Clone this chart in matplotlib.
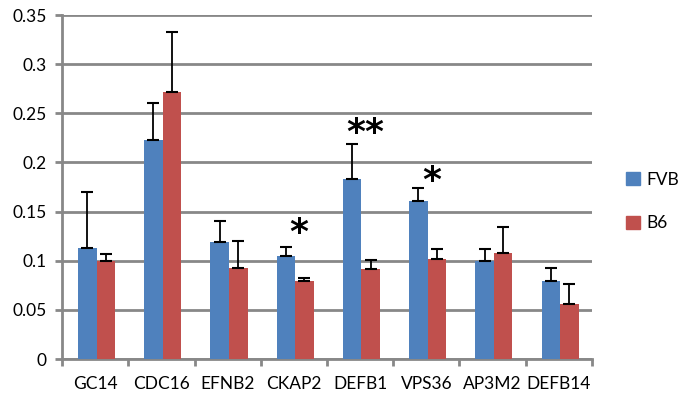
import matplotlib
matplotlib.use("Agg")
import matplotlib.pyplot as plt
import numpy as np
from matplotlib.patches import Patch

plt.rcParams['font.family'] = ['Lato', 'DejaVu Sans']

genes = ["GC14", "CDC16", "EFNB2", "CKAP2", "DEFB1", "VPS36", "AP3M2", "DEFB14"]
fvb = [0.113, 0.223, 0.119, 0.105, 0.183, 0.161, 0.100, 0.079]
fvb_err = [0.057, 0.037, 0.021, 0.009, 0.036, 0.013, 0.012, 0.014]
b6 = [0.100, 0.272, 0.093, 0.079, 0.092, 0.102, 0.108, 0.056]
b6_err = [0.007, 0.061, 0.027, 0.003, 0.009, 0.010, 0.026, 0.020]
stars = {"CKAP2": ("*", 0.136), "DEFB1": ("**", 0.238), "VPS36": ("*", 0.189)}
yticks = [0, 0.05, 0.1, 0.15, 0.2, 0.25, 0.3, 0.35]
ytick_labels = ["0", "0.05", "0.1", "0.15", "0.2", "0.25", "0.3", "0.35"]

blue = "#4F81BD"
red = "#C0504D"
grid_c = "#888888"

fig = plt.figure(figsize=(6.82, 3.95), dpi=100)
ax = fig.add_axes([0.091, 0.091, 0.777, 0.871])

x = np.arange(len(genes))
w = 0.28
ax.bar(x - w/2 + 0.02, fvb, w, color=blue, zorder=3, label="FVB")
ax.bar(x + w/2 + 0.02, b6, w, color=red, zorder=3, label="B6")
ax.errorbar(x - w/2 + 0.02, fvb, yerr=[np.zeros(len(fvb)), fvb_err], fmt='none',
            ecolor='black', elinewidth=1.3, capsize=4, capthick=1.5, zorder=4)
ax.errorbar(x + w/2 + 0.02, b6, yerr=[np.zeros(len(b6)), b6_err], fmt='none',
            ecolor='black', elinewidth=1.3, capsize=4, capthick=1.5, zorder=4)

for g, (s, yv) in stars.items():
    i = genes.index(g)
    ax.annotate(s, (i + 0.08, yv), xytext=(0, -8), textcoords='offset pixels',
                ha='center', va='center', fontsize=26, fontweight='bold',
                family='DejaVu Sans', zorder=5)

ax.set_xlim(-0.5, len(genes) - 0.5)
ax.set_ylim(0, 0.35)
ax.set_yticks(yticks)
ax.set_yticklabels(ytick_labels)
ax.set_xticks(x)
ax.set_xticklabels(genes)
ax.set_xticks(np.arange(-0.5, len(genes)), minor=True)
ax.tick_params(axis='x', which='major', length=0, pad=12, labelsize=12.5)
ax.tick_params(axis='x', which='minor', length=5, width=2, color=grid_c, direction='out')
ax.tick_params(axis='y', length=5, width=2, color=grid_c, direction='out', labelsize=12.5, pad=6)

ax.yaxis.grid(True, color=grid_c, linewidth=2, zorder=0)
ax.set_axisbelow(True)
for sp in ['top', 'right']:
    ax.spines[sp].set_visible(False)
ax.spines['left'].set_color(grid_c)
ax.spines['left'].set_linewidth(2)
ax.spines['bottom'].set_color(grid_c)
ax.spines['bottom'].set_linewidth(2)

handles = [Patch(color=blue, label="FVB"), Patch(color=red, label="B6")]
fig.legend(handles=handles, loc='center left', bbox_to_anchor=(0.895, 0.49), frameon=False,
           fontsize=12.5, handlelength=0.8, handleheight=0.8, labelspacing=1.6, handletextpad=0.4)

fig.savefig("out.png", dpi=100)
